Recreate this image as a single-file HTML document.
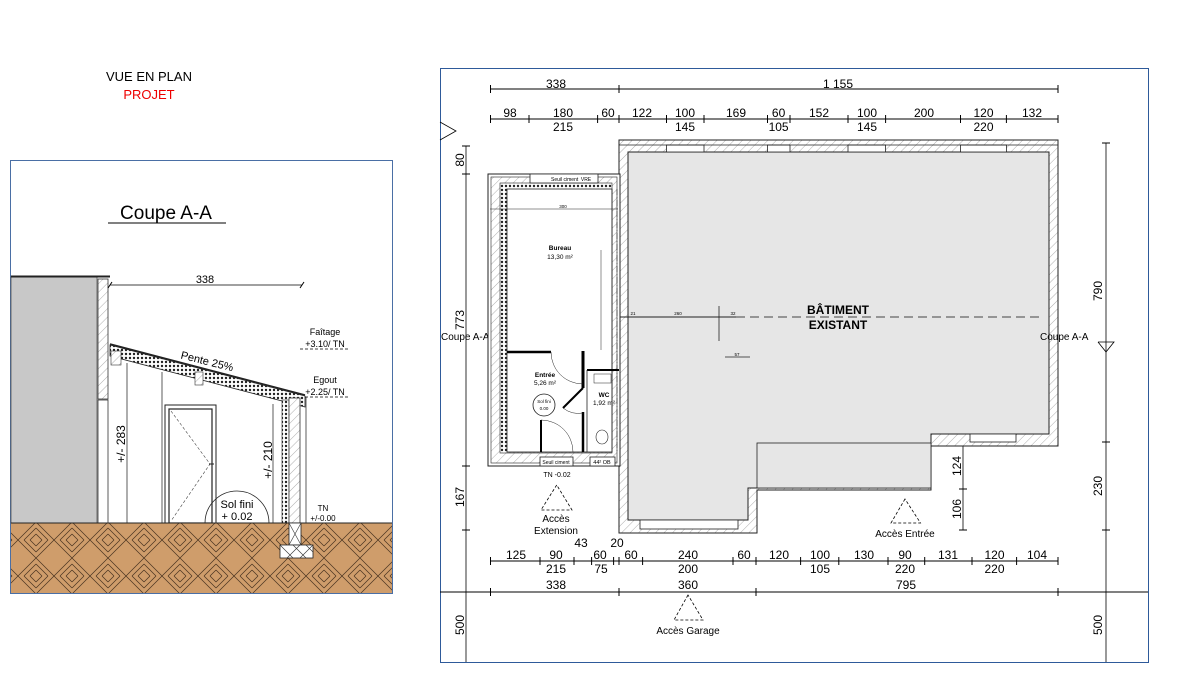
<!DOCTYPE html>
<html><head><meta charset="utf-8"><style>
html,body{margin:0;padding:0;background:#fff;}
svg{display:block;font-family:"Liberation Sans",sans-serif;}
</style></head><body>
<svg width="1180" height="693" viewBox="0 0 1180 693" xmlns="http://www.w3.org/2000/svg">
<defs>
<pattern id="hatch" width="6" height="6" patternUnits="userSpaceOnUse" patternTransform="rotate(45)">
<rect width="6" height="6" fill="#fff"/><line x1="0" y1="0" x2="0" y2="6" stroke="#999" stroke-width="0.8"/></pattern>
<pattern id="ground" width="36" height="36" patternUnits="userSpaceOnUse">
<rect width="36" height="36" fill="#cf9d6b"/>
<g stroke="#4a3320" stroke-width="0.7">
<line x1="0" y1="18" x2="18" y2="0"/><line x1="0" y1="12" x2="12" y2="0"/><line x1="0" y1="6" x2="6" y2="0"/>
<line x1="18" y1="36" x2="36" y2="18"/><line x1="24" y1="36" x2="36" y2="24"/><line x1="30" y1="36" x2="36" y2="30"/>
<line x1="18" y1="0" x2="36" y2="18"/><line x1="24" y1="0" x2="36" y2="12"/><line x1="30" y1="0" x2="36" y2="6"/>
<line x1="0" y1="18" x2="18" y2="36"/><line x1="0" y1="24" x2="12" y2="36"/><line x1="0" y1="30" x2="6" y2="36"/>
</g></pattern>
<pattern id="insul" width="4" height="4" patternUnits="userSpaceOnUse">
<rect width="4" height="4" fill="#fff"/><circle cx="2" cy="2" r="1.2" fill="#222"/></pattern>
</defs>

<text x="149" y="81" font-size="13" text-anchor="middle">VUE EN PLAN</text>
<text x="149" y="99" font-size="13" text-anchor="middle" fill="#e00">PROJET</text>

<!-- LEFT PANEL -->
<rect x="10.5" y="160.5" width="382" height="433" fill="#fff" stroke="#4a6fa5" stroke-width="1"/>
<text x="166" y="219" font-size="19" text-anchor="middle">Coupe A-A</text>
<line x1="108" y1="223" x2="226" y2="223" stroke="#000" stroke-width="1"/>
<rect x="11" y="277" width="86" height="246" fill="#c8c8c8" stroke="#555" stroke-width="0.8"/>
<line x1="11" y1="276.5" x2="110" y2="276.5" stroke="#222" stroke-width="2"/>
<rect x="98" y="279" width="10" height="120" fill="url(#hatch)" stroke="#333" stroke-width="0.8"/>
<rect x="98" y="400" width="10" height="123" fill="#fff" stroke="#333" stroke-width="0.8"/>
<line x1="110" y1="285" x2="302" y2="285" stroke="#000" stroke-width="0.8"/>
<line x1="108" y1="288" x2="112" y2="282" stroke="#000"/><line x1="300" y1="288" x2="304" y2="282" stroke="#000"/>
<text x="205" y="283" font-size="11" text-anchor="middle">338</text>
<polygon points="110,345 305,396 305,407 110,356" fill="url(#insul)" stroke="#222" stroke-width="0.8"/>
<line x1="110" y1="344" x2="305" y2="395" stroke="#222" stroke-width="1.5"/>
<rect x="111" y="351" width="10" height="14" fill="url(#hatch)" stroke="#333" stroke-width="0.6"/>
<rect x="195" y="372" width="8" height="13" fill="url(#hatch)" stroke="#333" stroke-width="0.6"/>
<text x="207" y="365" font-size="11" text-anchor="middle" transform="rotate(14 207 362)">Pente 25%</text>
<line x1="127" y1="363" x2="127" y2="523" stroke="#333" stroke-width="0.8"/>
<line x1="162" y1="372" x2="162" y2="523" stroke="#333" stroke-width="0.8"/>
<line x1="273" y1="404" x2="273" y2="523" stroke="#333" stroke-width="0.8"/>
<rect x="282" y="400" width="7" height="123" fill="url(#insul)" stroke="#222" stroke-width="0.6"/>
<rect x="289" y="398" width="11" height="125" fill="url(#hatch)" stroke="#333" stroke-width="0.8"/>
<line x1="306" y1="397" x2="306" y2="523" stroke="#333" stroke-width="0.8"/>
<rect x="165" y="405" width="51" height="118" fill="#fff" stroke="#222" stroke-width="1"/>
<rect x="169" y="409" width="43" height="114" fill="#fff" stroke="#222" stroke-width="1.2"/>
<polyline points="171,411 210,464 171,521" fill="none" stroke="#444" stroke-width="0.6" stroke-dasharray="3,2"/>
<line x1="209" y1="464" x2="214" y2="464" stroke="#222"/>
<path d="M205,523 A32,32 0 0 1 269,523" fill="none" stroke="#222" stroke-width="0.8"/>
<text x="237" y="508" font-size="11" text-anchor="middle">Sol fini</text>
<text x="237" y="520" font-size="11" text-anchor="middle">+ 0.02</text>
<text x="0" y="0" font-size="12" text-anchor="middle" transform="translate(125,444) rotate(-90)">+/- 283</text>
<text x="0" y="0" font-size="12" text-anchor="middle" transform="translate(272,460) rotate(-90)">+/- 210</text>
<text x="325" y="335" font-size="9" text-anchor="middle">Faîtage</text>
<text x="325" y="347" font-size="9" text-anchor="middle">+3.10/ TN</text>
<line x1="300" y1="349" x2="350" y2="349" stroke="#000" stroke-width="0.8" stroke-dasharray="3,2"/>
<text x="325" y="383" font-size="9" text-anchor="middle">Egout</text>
<text x="325" y="395" font-size="9" text-anchor="middle">+2.25/ TN</text>
<line x1="305" y1="397" x2="350" y2="397" stroke="#000" stroke-width="0.8" stroke-dasharray="3,2"/>
<text x="323" y="511" font-size="8" text-anchor="middle">TN</text>
<text x="323" y="521" font-size="8" text-anchor="middle">+/-0.00</text>
<rect x="11" y="523" width="381" height="70" fill="url(#ground)"/>
<line x1="11" y1="523" x2="392" y2="523" stroke="#222" stroke-width="1"/>
<rect x="289" y="523" width="12" height="22" fill="#fff" stroke="#222" stroke-width="0.8"/>
<rect x="280" y="545" width="33" height="13" fill="#fff" stroke="#222" stroke-width="0.8"/>
<path d="M289,523 L301,545 M301,523 L289,545 M280,545 L293,558 M293,545 L306,558 M306,545 L313,552 M313,545 L300,558 M300,545 L287,558" stroke="#333" stroke-width="0.6"/>

<!-- RIGHT PANEL -->
<rect x="440.5" y="68.5" width="708" height="594" fill="#fff" stroke="#2e5a9a" stroke-width="1"/>
<polyline points="440,122 456,131 440,140" fill="none" stroke="#000" stroke-width="0.8"/>
<line x1="440" y1="592" x2="1148" y2="592" stroke="#000" stroke-width="1"/>
<line x1="466" y1="146" x2="466" y2="662" stroke="#000" stroke-width="0.8"/>
<line x1="1106" y1="143" x2="1106" y2="662" stroke="#000" stroke-width="0.8"/>
<g stroke="#000" stroke-width="1">
<line x1="462" y1="146" x2="470" y2="146"/><line x1="462" y1="174" x2="470" y2="174"/><line x1="462" y1="466" x2="470" y2="466"/><line x1="462" y1="530" x2="470" y2="530"/>
<line x1="1102" y1="143" x2="1110" y2="143"/><line x1="1102" y1="442" x2="1110" y2="442"/><line x1="1102" y1="530" x2="1110" y2="530"/>
</g>
<g font-size="12" text-anchor="middle">
<text transform="translate(464,160) rotate(-90)">80</text>
<text transform="translate(464,320) rotate(-90)">773</text>
<text transform="translate(464,497) rotate(-90)">167</text>
<text transform="translate(464,625) rotate(-90)">500</text>
<text transform="translate(1102,291) rotate(-90)">790</text>
<text transform="translate(1102,486) rotate(-90)">230</text>
<text transform="translate(1102,625) rotate(-90)">500</text>
<text transform="translate(961,466) rotate(-90)">124</text>
<text transform="translate(961,509) rotate(-90)">106</text>
</g>
<line x1="963" y1="440" x2="963" y2="530" stroke="#000" stroke-width="0.8"/>
<g stroke="#000"><line x1="959" y1="489" x2="967" y2="489"/><line x1="959" y1="530" x2="967" y2="530"/></g>

<g stroke="#000" stroke-width="0.9">
<line x1="490" y1="89" x2="1058" y2="89"/>
<line x1="490" y1="119" x2="1058" y2="119"/>
</g>
<g stroke="#000" stroke-width="1">
<line x1="490.5" y1="85" x2="490.5" y2="93"/><line x1="619" y1="85" x2="619" y2="93"/><line x1="1058" y1="85" x2="1058" y2="93"/>
<line x1="490.5" y1="115" x2="490.5" y2="123"/><line x1="529" y1="115" x2="529" y2="123"/><line x1="597.6" y1="115" x2="597.6" y2="123"/><line x1="619" y1="115" x2="619" y2="123"/><line x1="666.5" y1="115" x2="666.5" y2="123"/><line x1="704" y1="115" x2="704" y2="123"/><line x1="767.5" y1="115" x2="767.5" y2="123"/><line x1="790" y1="115" x2="790" y2="123"/><line x1="848" y1="115" x2="848" y2="123"/><line x1="885.6" y1="115" x2="885.6" y2="123"/><line x1="960.5" y1="115" x2="960.5" y2="123"/><line x1="1006.4" y1="115" x2="1006.4" y2="123"/><line x1="1058" y1="115" x2="1058" y2="123"/>
</g>
<g font-size="12" text-anchor="middle">
<text x="556" y="88">338</text><text x="838" y="88">1 155</text>
<text x="510" y="117">98</text><text x="563" y="117">180</text><text x="608" y="117">60</text><text x="642" y="117">122</text><text x="685" y="117">100</text><text x="736" y="117">169</text><text x="778.6" y="117">60</text><text x="819" y="117">152</text><text x="867" y="117">100</text><text x="924" y="117">200</text><text x="983.5" y="117">120</text><text x="1032" y="117">132</text>
<text x="563" y="131">215</text><text x="685" y="131">145</text><text x="778.6" y="131">105</text><text x="867" y="131">145</text><text x="983.5" y="131">220</text>
</g>

<polygon points="619,140 1058,140 1058,446 931,446 931,490 757,490 757,533 619,533" fill="url(#hatch)" stroke="#222" stroke-width="1"/>
<polygon points="628,152 1049,152 1049,434 931,434 931,488 748,488 748,520 628,520" fill="#e6e6e6" stroke="#222" stroke-width="1"/>
<rect x="757" y="443" width="174" height="45" fill="#e6e6e6" stroke="#222" stroke-width="0.8"/>
<g fill="#fff" stroke="#222" stroke-width="0.8">
<rect x="666.5" y="145" width="37.5" height="7"/><rect x="767.5" y="145" width="22.5" height="7"/><rect x="848" y="145" width="37.6" height="7"/><rect x="960.5" y="145" width="46" height="7"/>
<rect x="640" y="520" width="98" height="9"/><rect x="970" y="434" width="46" height="8"/>
</g>
<line x1="619" y1="145" x2="1058" y2="145" stroke="#222" stroke-width="0.8"/>
<text x="838" y="314" font-size="12" font-weight="bold" text-anchor="middle">BÂTIMENT</text>
<text x="838" y="329" font-size="12" font-weight="bold" text-anchor="middle">EXISTANT</text>
<line x1="620" y1="317" x2="736" y2="317" stroke="#222" stroke-width="1"/>
<line x1="736" y1="317" x2="1040" y2="317" stroke="#444" stroke-width="1" stroke-dasharray="9,5"/>
<line x1="719" y1="306" x2="719" y2="341" stroke="#222" stroke-width="0.8"/>
<line x1="725" y1="357" x2="750" y2="357" stroke="#222" stroke-width="0.8"/>
<g font-size="4.5" text-anchor="middle"><text x="633" y="315">21</text><text x="678" y="315">260</text><text x="733" y="315">32</text><text x="737" y="356">57</text></g>
<text x="1040" y="340" font-size="10">Coupe A-A</text>
<polyline points="1098,342 1106,352 1114,342 1098,342" fill="none" stroke="#000" stroke-width="0.8"/>
<text x="441" y="340" font-size="10">Coupe A-A</text>

<rect x="488" y="174" width="132" height="292" fill="#fff" stroke="#222" stroke-width="1"/>
<rect x="491" y="177" width="126" height="286" fill="url(#hatch)" stroke="#222" stroke-width="0.6"/>
<rect x="500" y="183" width="112" height="270" fill="url(#insul)" stroke="#222" stroke-width="0.6"/>
<rect x="507" y="189" width="105" height="263" fill="#fff" stroke="#222" stroke-width="0.8"/>
<rect x="530" y="174" width="68" height="9" fill="#fff" stroke="#222" stroke-width="0.8"/>
<text x="551" y="181" font-size="5">Seuil ciment</text><text x="586" y="181" font-size="5" text-anchor="middle">VRE</text>
<line x1="612" y1="189" x2="612" y2="452" stroke="#222" stroke-width="0.6"/>
<line x1="617" y1="189" x2="617" y2="452" stroke="#222" stroke-width="0.5" stroke-dasharray="6,2,1,2"/>
<line x1="490" y1="209" x2="618" y2="209" stroke="#222" stroke-width="0.6"/>
<text x="563" y="208" font-size="4.5" text-anchor="middle">300</text>
<line x1="601" y1="250" x2="601" y2="350" stroke="#222" stroke-width="0.5"/>
<line x1="507" y1="352" x2="551" y2="352" stroke="#000" stroke-width="2.5"/>
<line x1="583" y1="351" x2="583" y2="388" stroke="#000" stroke-width="3"/>
<line x1="583" y1="388" x2="563" y2="408" stroke="#000" stroke-width="2"/>
<line x1="583" y1="412" x2="583" y2="452" stroke="#000" stroke-width="2.5"/>
<line x1="587" y1="370" x2="619" y2="370" stroke="#000" stroke-width="2"/>
<line x1="587" y1="370" x2="587" y2="452" stroke="#222" stroke-width="0.8"/>
<line x1="541" y1="420" x2="541" y2="452" stroke="#000" stroke-width="2"/>
<path d="M551,352 A32,32 0 0 0 583,384" fill="none" stroke="#222" stroke-width="0.5"/>
<path d="M563,408 A25,25 0 0 0 583,413" fill="none" stroke="#222" stroke-width="0.5"/>
<path d="M541,420 A32,32 0 0 1 573,452" fill="none" stroke="#222" stroke-width="0.5"/>
<rect x="594" y="374" width="17" height="9" fill="#fff" stroke="#222" stroke-width="0.5"/>
<ellipse cx="602" cy="437" rx="6" ry="7" fill="#fff" stroke="#222" stroke-width="0.6"/>
<text x="560" y="250" font-size="6.5" font-weight="bold" text-anchor="middle">Bureau</text>
<text x="560" y="259" font-size="6.5" text-anchor="middle">13,30 m²</text>
<text x="545" y="377" font-size="6.5" font-weight="bold" text-anchor="middle">Entrée</text>
<text x="545" y="385" font-size="6.5" text-anchor="middle">5,26 m²</text>
<text x="604" y="397" font-size="6.5" font-weight="bold" text-anchor="middle">WC</text>
<text x="604" y="405" font-size="6.5" text-anchor="middle">1,92 m²</text>
<circle cx="544" cy="405" r="11" fill="#fff" stroke="#222" stroke-width="0.8"/>
<text x="544" y="403" font-size="4.5" text-anchor="middle">Sol fini</text>
<text x="544" y="410" font-size="4.5" text-anchor="middle">0.00</text>
<rect x="540" y="457" width="33" height="9" fill="#fff" stroke="#222" stroke-width="0.8"/>
<text x="556" y="464" font-size="5" text-anchor="middle">Seuil ciment</text>
<rect x="590" y="457" width="25" height="9" fill="#fff" stroke="#222" stroke-width="0.8"/>
<text x="602" y="464" font-size="5.5" text-anchor="middle">44² OB</text>
<text x="557" y="477" font-size="7" text-anchor="middle">TN -0.02</text>

<g fill="none" stroke="#000" stroke-width="0.8" stroke-dasharray="3,2">
<polygon points="556.7,485 541,510 572,510"/>
<polygon points="905,499 891,523 920.5,523"/>
<polygon points="688,595 674,620 703,620"/>
</g>
<g font-size="10" text-anchor="middle">
<text x="556" y="522">Accès</text><text x="556" y="534">Extension</text>
<text x="905" y="537">Accès Entrée</text>
<text x="688" y="634">Accès Garage</text>
</g>

<line x1="490" y1="561" x2="1058" y2="561" stroke="#000" stroke-width="0.9"/>
<g stroke="#000" stroke-width="1">
<line x1="490.5" y1="557" x2="490.5" y2="565"/><line x1="540" y1="557" x2="540" y2="565"/><line x1="574" y1="557" x2="574" y2="565"/><line x1="591.6" y1="557" x2="591.6" y2="565"/><line x1="613.6" y1="557" x2="613.6" y2="565"/><line x1="619" y1="557" x2="619" y2="565"/><line x1="642.6" y1="557" x2="642.6" y2="565"/><line x1="733" y1="557" x2="733" y2="565"/><line x1="756" y1="557" x2="756" y2="565"/><line x1="800.6" y1="557" x2="800.6" y2="565"/><line x1="838.8" y1="557" x2="838.8" y2="565"/><line x1="888" y1="557" x2="888" y2="565"/><line x1="924.7" y1="557" x2="924.7" y2="565"/><line x1="972" y1="557" x2="972" y2="565"/><line x1="1016.6" y1="557" x2="1016.6" y2="565"/><line x1="1058" y1="557" x2="1058" y2="565"/>
<line x1="490.5" y1="588" x2="490.5" y2="596"/><line x1="619" y1="588" x2="619" y2="596"/><line x1="756" y1="588" x2="756" y2="596"/><line x1="1058" y1="588" x2="1058" y2="596"/>
</g>
<g font-size="12" text-anchor="middle">
<text x="581" y="547">43</text><text x="617" y="547">20</text>
<text x="516" y="559">125</text><text x="556" y="559">90</text><text x="600" y="559">60</text><text x="631" y="559">60</text><text x="688" y="559">240</text><text x="744" y="559">60</text><text x="779" y="559">120</text><text x="820" y="559">100</text><text x="864" y="559">130</text><text x="905" y="559">90</text><text x="948" y="559">131</text><text x="994.5" y="559">120</text><text x="1037" y="559">104</text>
<text x="556" y="573">215</text><text x="601" y="573">75</text><text x="688" y="573">200</text><text x="820" y="573">105</text><text x="905" y="573">220</text><text x="994.5" y="573">220</text>
<text x="556" y="589">338</text><text x="688" y="589">360</text><text x="906" y="589">795</text>
</g>
</svg>
</body></html>
